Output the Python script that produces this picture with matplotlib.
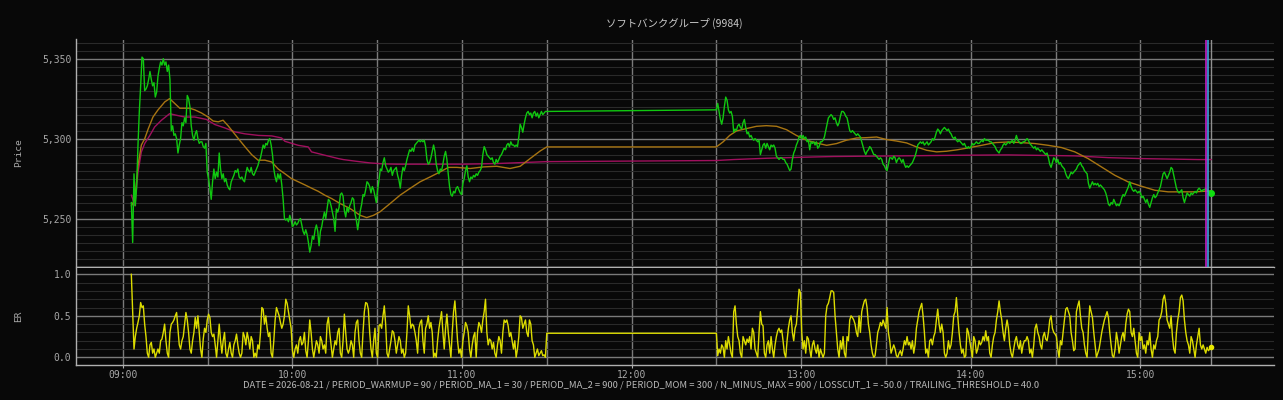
import numpy as np
import pandas as pd
import matplotlib
matplotlib.use('Agg')
import matplotlib.pyplot as plt
import matplotlib.dates as mdates
from matplotlib.ticker import MultipleLocator, FuncFormatter, FixedLocator

## chart data

DATE = '2026-08-21'
TITLE = 'ソフトバンクグループ (9984)'
FOOTER = ('DATE = 2026-08-21 / PERIOD_WARMUP = 90 / PERIOD_MA_1 = 30 / PERIOD_MA_2 = 900 / '
          'PERIOD_MOM = 300 / N_MINUS_MAX = 900 / LOSSCUT_1 = -50.0 / TRAILING_THRESHOLD = 40.0')

# session spans of the tick series
AM_START, AM_END = '09:03:03', '11:30:00'
PM_START, PM_END = '12:30:00', '15:25:00'

price_am = [
    5260, 5235, 5278, 5258, 5270, 5296, 5317, 5333, 5351, 5350,
    5330, 5331, 5333, 5337, 5342, 5337, 5333, 5335, 5326, 5329,
    5339, 5344, 5348, 5346, 5350, 5346, 5348, 5342, 5346, 5337,
    5305, 5308, 5302, 5303, 5300, 5291, 5296, 5300, 5310, 5308,
    5313, 5310, 5327, 5325, 5320, 5308, 5302, 5299, 5303, 5305,
    5300, 5297, 5298, 5298, 5295, 5294, 5297, 5279, 5275, 5269,
    5262, 5273, 5281, 5275, 5279, 5276, 5291, 5281, 5275, 5278,
    5273, 5275, 5271, 5269, 5268, 5273, 5275, 5277, 5280, 5279,
    5281, 5276, 5275, 5276, 5274, 5273, 5278, 5282, 5280, 5279,
    5282, 5278, 5277, 5279, 5281, 5283, 5286, 5288, 5292, 5296,
    5294, 5297, 5296, 5299, 5300, 5296, 5290, 5281, 5276, 5273,
    5278, 5275, 5278, 5271, 5262, 5250, 5249, 5250, 5248, 5252,
    5249, 5245, 5246, 5248, 5246, 5247, 5249, 5250, 5246, 5242,
    5240, 5243, 5240, 5235, 5229, 5233, 5239, 5237, 5243, 5246,
    5242, 5233, 5242, 5245, 5250, 5254, 5250, 5256, 5262, 5261,
    5258, 5254, 5250, 5242, 5256, 5254,
    5257, 5265, 5266, 5264, 5255, 5251, 5257, 5254, 5258, 5260,
    5263, 5262, 5253, 5249, 5243, 5249, 5255, 5259, 5265, 5264,
    5268, 5273, 5272, 5270, 5266, 5270, 5268, 5264, 5260, 5268,
    5274, 5281, 5280, 5285, 5288, 5283, 5281, 5279, 5280, 5282,
    5277, 5280, 5281, 5282, 5277, 5274, 5269, 5277, 5282, 5280,
    5283, 5287, 5290, 5293, 5292, 5294, 5292, 5296, 5297, 5298,
    5299, 5298, 5299, 5298, 5299, 5295, 5287, 5284, 5285, 5288,
    5292, 5296, 5292, 5284, 5280, 5278, 5281, 5280, 5284, 5289,
    5292, 5287, 5278, 5270, 5265, 5264, 5267, 5266, 5269, 5270,
    5268, 5266, 5265, 5272, 5275, 5280, 5283, 5276, 5273, 5276,
    5275, 5277, 5276, 5278, 5277, 5279, 5280, 5282, 5290, 5295,
    5293, 5290, 5289, 5288, 5287, 5288, 5285, 5284, 5287, 5285,
    5287, 5289, 5290, 5292, 5294, 5293, 5296, 5297, 5295, 5298,
    5296, 5296, 5295, 5296, 5295, 5301, 5309, 5307, 5304, 5309,
    5313, 5316, 5317, 5315, 5316, 5313, 5316, 5317, 5314, 5316,
    5313, 5315, 5317, 5315, 5316, 5317, 5317,
]

price_pm = [
    5318, 5322, 5317, 5312, 5309, 5313, 5320, 5326, 5324, 5318,
    5316, 5317, 5314, 5304, 5306, 5305, 5308, 5309, 5307, 5306,
    5310, 5312, 5307, 5303, 5304, 5301, 5302, 5300, 5299, 5300,
    5299, 5298, 5299, 5290, 5293, 5296, 5297, 5294, 5297, 5295,
    5293, 5296, 5295, 5296, 5294, 5289, 5288, 5287, 5288, 5288,
    5287, 5287, 5285, 5284, 5282, 5280, 5281, 5287, 5291, 5293,
    5296, 5298, 5301, 5302, 5300, 5302, 5300, 5301, 5298, 5299,
    5293, 5298, 5297, 5298, 5296, 5298, 5294, 5295, 5298, 5298,
    5299, 5301, 5305, 5309, 5313, 5314, 5315, 5314, 5312, 5313,
    5310, 5308, 5310, 5314, 5317, 5317, 5316, 5314, 5313, 5309,
    5305, 5304, 5305, 5304, 5303, 5302, 5303, 5302, 5301, 5298,
    5295, 5292, 5290, 5292, 5293, 5295, 5294, 5292, 5290, 5290,
    5289, 5288, 5287, 5288, 5287, 5284, 5283, 5281, 5280, 5284,
    5288, 5288, 5287, 5289, 5288, 5285, 5287, 5288, 5287, 5285,
    5287, 5284, 5282, 5283, 5282, 5283, 5284, 5285, 5287, 5289,
    5292, 5296, 5297, 5298, 5297, 5298, 5296, 5297, 5298, 5296,
    5297, 5298, 5300, 5299, 5301, 5304, 5306, 5305, 5303, 5305,
    5306, 5307, 5306, 5305, 5306, 5304, 5303, 5301, 5300, 5301,
    5299, 5298, 5299,
    5298, 5297, 5296, 5297, 5295, 5294, 5295, 5294, 5295, 5297,
    5296, 5297, 5298, 5297, 5297, 5298, 5299, 5298, 5300, 5299,
    5299, 5299, 5298, 5298, 5297, 5296, 5295, 5293, 5292, 5291,
    5293, 5294, 5296, 5297, 5296, 5297, 5298, 5297, 5298, 5299,
    5297, 5299, 5302, 5299, 5298, 5297, 5297, 5298, 5298, 5299,
    5300, 5299, 5297, 5296, 5295, 5294, 5295, 5293, 5294, 5293,
    5292, 5293, 5292, 5291, 5290, 5291, 5288, 5284, 5282, 5285,
    5288, 5287, 5285, 5287, 5284, 5285, 5283, 5282, 5281, 5278,
    5276, 5275, 5277, 5279, 5278, 5279, 5280, 5281, 5283, 5284,
    5285, 5283, 5282, 5280, 5279, 5278, 5272, 5269, 5271, 5273,
    5271, 5272, 5271, 5272, 5270, 5271, 5270, 5269, 5268, 5266,
    5263, 5259, 5258, 5260, 5259, 5262, 5260, 5258, 5259, 5258,
    5260, 5263, 5265, 5264, 5266, 5268, 5270, 5273, 5270, 5268,
    5267, 5268, 5267, 5266, 5267, 5266, 5263, 5264, 5262, 5260,
    5262, 5259, 5257, 5260, 5263, 5265, 5263, 5264, 5266, 5268,
    5270, 5274, 5278, 5279, 5277, 5275, 5277, 5279, 5282, 5281,
    5277, 5273, 5269, 5267, 5266, 5267, 5268, 5263, 5260, 5263,
    5266, 5265, 5264, 5266, 5265, 5266, 5267, 5266, 5268, 5269,
    5268, 5267, 5268, 5268, 5269, 5268, 5267, 5266, 5266,
]

er_am = [
    1.00, 0.55, 0.10, 0.25, 0.35, 0.42, 0.50, 0.66, 0.60, 0.62,
    0.40, 0.25, 0.05, 0.00, 0.15, 0.18, 0.05, 0.10, 0.00, 0.05,
    0.10, 0.05, 0.20, 0.22, 0.30, 0.40, 0.20, 0.05, 0.00, 0.30,
    0.40, 0.42, 0.45, 0.50, 0.54, 0.35, 0.15, 0.10, 0.20, 0.25,
    0.40, 0.54, 0.45, 0.30, 0.10, 0.05, 0.20, 0.30, 0.48, 0.35,
    0.50, 0.30, 0.10, 0.00, 0.22, 0.35, 0.30, 0.45, 0.52, 0.48,
    0.30, 0.25, 0.28, 0.15, 0.00, 0.20, 0.40, 0.20, 0.05, 0.20,
    0.30, 0.05, 0.00, 0.10, 0.18, 0.05, 0.00, 0.15, 0.20, 0.28,
    0.15, 0.05, 0.00, 0.05, 0.30, 0.25, 0.15, 0.30, 0.22, 0.10,
    0.25, 0.20, 0.00, 0.05, 0.00, 0.15, 0.10, 0.30, 0.60, 0.58,
    0.40, 0.50, 0.35, 0.25, 0.30, 0.05, 0.00, 0.20, 0.45, 0.60,
    0.55, 0.50, 0.42, 0.35, 0.40, 0.50, 0.70, 0.65, 0.55, 0.45,
    0.35, 0.08, 0.00, 0.10, 0.15, 0.05, 0.20, 0.25, 0.15, 0.18,
    0.30, 0.08, 0.00, 0.20, 0.45, 0.30, 0.10, 0.00, 0.10, 0.20,
    0.15, 0.05, 0.25, 0.20, 0.10, 0.15, 0.05, 0.40, 0.48, 0.30,
    0.15, 0.00, 0.10, 0.20, 0.15, 0.30, 0.35, 0.05, 0.00, 0.20,
    0.52, 0.30, 0.10, 0.05, 0.10, 0.20, 0.15, 0.00, 0.30, 0.42,
    0.45, 0.20, 0.05, 0.00, 0.30, 0.55, 0.66, 0.65, 0.58, 0.30,
    0.10, 0.00, 0.20, 0.35, 0.05, 0.00, 0.38, 0.40, 0.35, 0.50,
    0.62, 0.40, 0.05, 0.00, 0.10, 0.20, 0.32, 0.30, 0.20, 0.05,
    0.15, 0.25, 0.20, 0.05, 0.10, 0.00, 0.05, 0.30, 0.62, 0.50,
    0.35, 0.40, 0.38, 0.30, 0.20, 0.05, 0.35, 0.42, 0.45, 0.20,
    0.05, 0.35, 0.40, 0.50, 0.35, 0.42, 0.30, 0.00, 0.05, 0.00,
    0.20, 0.35, 0.45, 0.55, 0.30, 0.10, 0.35, 0.52, 0.30, 0.15,
    0.00, 0.30, 0.55, 0.68, 0.45, 0.20, 0.05, 0.10, 0.00, 0.20,
    0.30, 0.42, 0.38, 0.30, 0.10, 0.00, 0.15, 0.25, 0.30, 0.00,
    0.30, 0.42, 0.38, 0.30, 0.45, 0.55, 0.70, 0.30, 0.15, 0.22,
    0.20, 0.10, 0.18, 0.05, 0.00, 0.15, 0.25, 0.20, 0.05, 0.30,
    0.45, 0.42, 0.45, 0.38, 0.25, 0.30, 0.20, 0.10, 0.20, 0.00,
    0.10, 0.25, 0.50, 0.48, 0.35, 0.40, 0.45, 0.30, 0.25, 0.45,
    0.40, 0.20, 0.15, 0.00, 0.05, 0.10, 0.02, 0.05, 0.08, 0.02,
    0.03, 0.00, 0.29,
]

er_pm = [
    0.29, 0.02, 0.10, 0.05, 0.15, 0.12, 0.00, 0.20, 0.10, 0.25,
    0.15, 0.05, 0.00, 0.55, 0.62, 0.40, 0.25, 0.20, 0.05, 0.00,
    0.25, 0.20, 0.15, 0.22, 0.18, 0.25, 0.10, 0.35, 0.30, 0.10,
    0.05, 0.00, 0.30, 0.55, 0.40, 0.38, 0.05, 0.00, 0.15, 0.20,
    0.05, 0.25, 0.10, 0.00, 0.15, 0.25, 0.32, 0.35, 0.30, 0.33,
    0.20, 0.05, 0.00, 0.20, 0.35, 0.45, 0.50, 0.30, 0.20, 0.35,
    0.40, 0.60, 0.82, 0.78, 0.30, 0.10, 0.20, 0.05, 0.25, 0.22,
    0.10, 0.00, 0.15, 0.20, 0.10, 0.05, 0.15, 0.00, 0.10, 0.05,
    0.00, 0.05, 0.50, 0.62, 0.65, 0.72, 0.80, 0.80, 0.78, 0.50,
    0.30, 0.10, 0.00, 0.20, 0.10, 0.25, 0.05, 0.00, 0.25, 0.20,
    0.45, 0.50, 0.48, 0.45, 0.40, 0.30, 0.25, 0.50, 0.30, 0.55,
    0.62, 0.68, 0.70, 0.60, 0.40, 0.30, 0.15, 0.05, 0.00, 0.02,
    0.15, 0.30, 0.35, 0.42, 0.38, 0.45, 0.40, 0.35, 0.60, 0.30,
    0.20, 0.05, 0.10, 0.15, 0.10, 0.02, 0.00, 0.05, 0.08, 0.02,
    0.10, 0.20, 0.15, 0.25, 0.15, 0.18, 0.10, 0.20, 0.05, 0.15,
    0.35, 0.45, 0.55, 0.60, 0.65, 0.50, 0.30, 0.05, 0.10, 0.00,
    0.20, 0.22, 0.15, 0.25, 0.30, 0.45, 0.58, 0.40, 0.30, 0.40,
    0.30, 0.05, 0.00, 0.05, 0.20, 0.10, 0.15, 0.30, 0.50, 0.55,
    0.72, 0.50, 0.30, 0.15, 0.05, 0.10, 0.00, 0.02, 0.35, 0.30,
    0.20, 0.10, 0.00, 0.25, 0.20, 0.05, 0.10, 0.20, 0.15, 0.18,
    0.25, 0.20, 0.32, 0.20, 0.25, 0.05, 0.00, 0.15, 0.25, 0.30,
    0.45, 0.55, 0.68, 0.55, 0.45, 0.30, 0.20, 0.35, 0.45, 0.35,
    0.15, 0.05, 0.00, 0.10, 0.20, 0.25, 0.15, 0.10, 0.20, 0.05,
    0.15, 0.20, 0.20, 0.25, 0.20, 0.05, 0.10, 0.00, 0.15, 0.35,
    0.40, 0.30, 0.25, 0.15, 0.10, 0.25, 0.30, 0.22, 0.20, 0.30,
    0.45, 0.50, 0.35, 0.30, 0.28, 0.25, 0.10, 0.00, 0.20, 0.15,
    0.30, 0.45, 0.58, 0.60, 0.55, 0.50, 0.30, 0.20, 0.08, 0.10,
    0.55, 0.62, 0.68, 0.50, 0.35, 0.30, 0.15, 0.05, 0.00, 0.35,
    0.62, 0.55, 0.48, 0.30, 0.15, 0.00, 0.05, 0.10, 0.20, 0.30,
    0.38, 0.45, 0.50, 0.55, 0.48, 0.30, 0.15, 0.02, 0.00, 0.10,
    0.30, 0.20, 0.05, 0.15, 0.25, 0.30, 0.20, 0.40, 0.52, 0.58,
    0.55, 0.30, 0.25, 0.35, 0.20, 0.05, 0.00, 0.30, 0.20, 0.25,
    0.10, 0.15, 0.05, 0.20, 0.15, 0.30, 0.10, 0.00, 0.15, 0.10,
    0.20, 0.25, 0.45, 0.48, 0.55, 0.70, 0.75, 0.65, 0.45, 0.40,
    0.35, 0.50, 0.25, 0.10, 0.05, 0.30, 0.45, 0.55, 0.72, 0.75,
    0.68, 0.45, 0.30, 0.20, 0.15, 0.05, 0.25, 0.20, 0.10, 0.00,
    0.15, 0.25, 0.35, 0.15, 0.10, 0.15, 0.10, 0.05, 0.12, 0.08,
    0.10, 0.12,
]

# moving averages: minutes after 09:00 and value
ma1_min = [3.1, 4.3, 5.4, 6.6, 7.8, 9.0, 10.7, 12.5, 14.9, 16.6, 18.4, 20.2, 22.0, 23.7,
           25.5, 27.9, 30.2, 32.0, 33.8, 35.5, 37.3, 39.1, 40.9, 43.2, 45.6, 47.9, 50.3,
           52.7, 55.0, 57.4, 59.7, 62.1, 64.5, 66.8, 69.2, 71.5, 73.9, 76.9, 80.4, 84.0,
           86.3, 88.7, 91.0, 94.6, 98.1, 101.6, 105.2, 108.7, 112.3, 115.2, 118.2, 122.9,
           127.6, 132.3, 137.0, 140.6, 144.1, 147.7, 150.0,
           210.0, 212.4, 214.7, 217.1, 220.7, 224.2, 227.7, 231.3, 234.8, 238.3, 241.9,
           245.4, 249.0, 252.5, 256.0, 259.6, 263.1, 266.7, 270.2, 273.7, 277.3, 280.8,
           284.4, 287.9, 291.4, 295.2, 299.1, 303.8, 308.6, 313.3, 318.0, 322.7, 327.4,
           332.1, 336.8, 341.5, 346.2, 350.9, 355.7, 360.4, 365.1, 369.8, 374.5, 379.2, 385.0]
ma1_val = [5258, 5262, 5283, 5296, 5300, 5306, 5313.5, 5318, 5323, 5325, 5322, 5319, 5319, 5319,
           5318, 5316, 5313.5, 5311, 5310.5, 5311.5, 5308, 5304, 5300, 5295, 5290, 5286.5, 5286.5,
           5285.4, 5281, 5278, 5275, 5273, 5271, 5269, 5267, 5264.6, 5262.5, 5259.4, 5256.3, 5252,
           5250.6, 5252, 5254.2, 5259.4, 5264.6, 5268.8, 5273, 5276, 5279.2, 5282, 5282, 5281.3,
           5282.3, 5282.7, 5281.3, 5282.7, 5287.5, 5292.3, 5294.8,
           5294.8, 5298, 5302, 5304.8, 5306.3, 5307.7, 5308.1, 5307.7, 5305.6, 5302, 5299,
           5297.3, 5295.8, 5296.9, 5299, 5300.4, 5300.6, 5301, 5299.4, 5298.5, 5297.3, 5294.8,
           5292.7, 5291.7, 5292.1, 5293, 5294.2, 5295.8, 5297.5, 5297.9, 5297.5, 5296.9, 5295.8,
           5294.4, 5291.7, 5287.5, 5282.3, 5277.1, 5272.9, 5270.2, 5267.7, 5266.7, 5266.7, 5266.7, 5267.3]

ma2_min = [3.1, 4.3, 5.4, 6.6, 7.8, 9.6, 11.3, 13.7, 16.6, 19.0, 22.0, 25.5, 29.6, 32.6, 36.1,
           39.7, 43.2, 48.0, 52.7, 56.2, 57.4, 62.1, 65.6, 66.8, 71.5, 76.3, 78.0, 82.7, 87.4,
           92.1, 96.8, 108.6, 120.4, 132.2, 144.0, 150.0,
           210.0, 216.0, 227.7, 239.5, 251.3, 263.1, 274.9, 295.9, 313.3, 336.8, 348.6, 360.4,
           380.4, 385.0]
ma2_val = [5264.6, 5258, 5279, 5291.7, 5297, 5302, 5307.3, 5311.5, 5315.6, 5314.6, 5313.5, 5313.5,
           5312, 5308.8, 5306.7, 5304.2, 5303, 5302, 5301.7, 5300.4, 5298.3, 5295.8, 5294.8, 5291.7,
           5289.6, 5287.5, 5286.9, 5285.8, 5284.8, 5284.2, 5284, 5284, 5284, 5284.4, 5285.2, 5285.6,
           5286.3, 5286.9, 5287.7, 5288.3, 5288.8, 5289, 5289.2, 5289.6, 5289.8, 5289.2, 5288.1,
           5287.5, 5286.9, 5286.9]

# trade markers and session close
EVENTS = [('15:23:10', '#c020c0'), ('15:24:00', '#40a0e0')]
CLOSE = '15:25:00'
HALF_HOURS = ['09:30', '10:30', '11:30', '12:30', '13:30', '14:30']

## build the time axes

def ts(hms):
    return pd.Timestamp(DATE + ' ' + hms)

base = ts('09:00:00')
t_price = pd.date_range(ts(AM_START), ts(AM_END), periods=len(price_am)).append(
    pd.date_range(ts(PM_START), ts(PM_END), periods=len(price_pm)))
t_er = pd.date_range(ts(AM_START), ts(AM_END), periods=len(er_am)).append(
    pd.date_range(ts(PM_START), ts(PM_END), periods=len(er_pm)))
price = np.array(price_am + price_pm, dtype=float)
er = np.array(er_am + er_pm, dtype=float)
t_ma1 = base + pd.to_timedelta(ma1_min, unit='min')
t_ma2 = base + pd.to_timedelta(ma2_min, unit='min')

## figure

BG = '#080808'
GRID_MAJOR = '#7a7a7a'
GRID_MINOR = '#2a2a2a'
TXT = '#a8a8a8'

plt.rcParams['font.family'] = ['Noto Sans CJK JP', 'DejaVu Sans']

fig = plt.figure(figsize=(12.83, 4.0), dpi=100, facecolor=BG)
W, H = 1283, 400
L, R = 75.5, 1274
ax = fig.add_axes([L / W, (H - 266.5) / H, (R - L) / W, (266.5 - 39.5) / H], facecolor=BG)
ax2 = fig.add_axes([L / W, (H - 365.3) / H, (R - L) / W, (365.3 - 268) / H], facecolor=BG, sharex=ax)

ax.plot(t_ma2, ma2_val, color='#a0105e', lw=1.0, zorder=3)
ax.plot(t_ma1, ma1_val, color='#a87512', lw=1.0, zorder=4)
ax.plot(t_price, price, color='#10c810', lw=1.0, zorder=5)
ax.plot(t_price[-1:], price[-1:], 'o', color='#10e010', ms=4, zorder=6)

ax2.plot(t_er, er, color='#dcdc00', lw=1.0, zorder=5)
ax2.plot(t_er[-1:], er[-1:], 'o', color='#e8e800', ms=3, zorder=6)

for hms, c in EVENTS:
    ax.axvline(ts(hms), color=c, lw=1.2, zorder=7)
for a in (ax, ax2):
    a.axvline(ts(CLOSE), color='#909090', lw=1.0, zorder=2)

ax.set_xlim(ts('08:43:18'), ts('15:47:15'))
ax.set_ylim(5220, 5362)
ax2.set_ylim(-0.096, 1.076)

ax.yaxis.set_major_locator(MultipleLocator(50))
ax.yaxis.set_minor_locator(MultipleLocator(5))
ax.yaxis.set_major_formatter(FuncFormatter(lambda v, p: f'{v:,.0f}'))
ax2.yaxis.set_major_locator(MultipleLocator(0.5))
ax2.yaxis.set_minor_locator(MultipleLocator(0.1))
ax2.yaxis.set_major_formatter(FuncFormatter(lambda v, p: f'{v:.1f}'))

ax2.xaxis.set_major_locator(mdates.HourLocator())
ax2.xaxis.set_minor_locator(FixedLocator(mdates.date2num([ts(h) for h in HALF_HOURS])))
ax2.xaxis.set_major_formatter(mdates.DateFormatter('%H:%M'))

for a in (ax, ax2):
    a.yaxis.grid(True, which='minor', color=GRID_MINOR, lw=0.8)
    a.yaxis.grid(True, which='major', color=GRID_MAJOR, lw=1.0)
    a.xaxis.grid(True, which='both', color=GRID_MAJOR, lw=1.0)
    a.set_axisbelow(True)
    for s in ('top', 'right'):
        a.spines[s].set_visible(False)
    for s in ('left', 'bottom'):
        a.spines[s].set_color('#b0b0b0')
        a.spines[s].set_linewidth(1.0)
    a.tick_params(which='both', length=0, colors=TXT, labelsize=7,
                  labelfontfamily='DejaVu Sans Mono', pad=3)

ax2.tick_params(axis='x', which='major', length=2, color='#b0b0b0', pad=1.5)
plt.setp(ax.get_xticklabels(), visible=False)

ax.set_ylabel('Price', color=TXT, fontsize=6.8, fontfamily='DejaVu Sans Mono')
ax2.set_ylabel('ER', color=TXT, fontsize=6.8, fontfamily='DejaVu Sans Mono')
ax.yaxis.set_label_coords(-0.044, 0.5)
ax2.yaxis.set_label_coords(-0.044, 0.5)

ax.set_title(TITLE, color='#c8c8c8', fontsize=7.5, pad=9)
fig.text(0.5, (H - 385) / H, FOOTER, ha='center', va='center', color='#b8b8b8', fontsize=6.75)

fig.savefig('out.png', dpi=100, facecolor=BG)
